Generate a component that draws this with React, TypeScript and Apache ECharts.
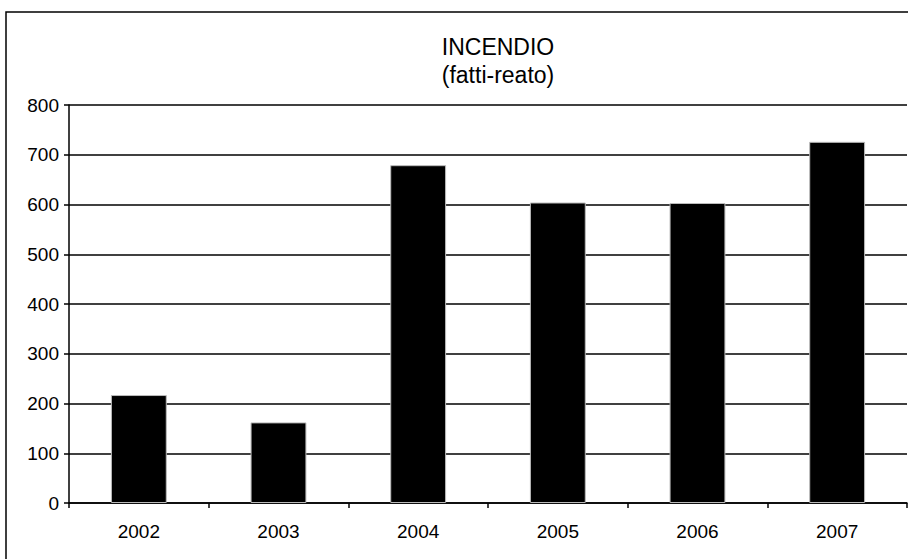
import React, { useEffect, useRef } from "react";
import * as echarts from "echarts";

const categories = ["2002", "2003", "2004", "2005", "2006", "2007"];
const values = [217, 162, 679, 604, 603, 726];
const titleText = "INCENDIO\n(fatti-reato)";

export default function App() {
  const ref = useRef<HTMLDivElement>(null);
  useEffect(() => {
    if (!ref.current) return;
    const chart = echarts.init(ref.current, null, { renderer: "svg" });
    chart.setOption({
      animation: false,
      backgroundColor: "#fff",
      title: {
        text: titleText,
        left: 493,
        textAlign: "center",
        top: 28,
        textStyle: {
          fontFamily: "Liberation Sans, Arial, sans-serif",
          fontSize: 23,
          fontWeight: "normal",
          color: "#000",
          lineHeight: 28,
        },
      },
      graphic: [
        {
          type: "rect",
          shape: { x: 6, y: 12, width: 940, height: 600 },
          style: { fill: "none", stroke: "#000", lineWidth: 1.5 },
          silent: true,
        },
      ],
      grid: { left: 69, right: 1, top: 105, bottom: 56 },
      xAxis: {
        type: "category",
        data: categories,
        boundaryGap: true,
        axisLine: { show: true, lineStyle: { color: "#000", width: 1.5 } },
        axisTick: { show: true, length: 5, inside: false, lineStyle: { color: "#000", width: 1.5 } },
        axisLabel: {
          color: "#000",
          fontFamily: "Liberation Sans, Arial, sans-serif",
          fontSize: 19,
          margin: 19,
        },
      },
      yAxis: {
        type: "value",
        min: 0,
        max: 800,
        interval: 100,
        axisLine: { show: true, lineStyle: { color: "#000", width: 1.5 } },
        axisTick: { show: true, length: 5, lineStyle: { color: "#000", width: 1.5 } },
        axisLabel: {
          color: "#000",
          fontFamily: "Liberation Sans, Arial, sans-serif",
          fontSize: 19,
          margin: 10,
        },
        splitLine: { show: true, lineStyle: { color: "#000", width: 1.5 } },
      },
      series: [
        {
          type: "bar",
          data: values,
          barWidth: "40%",
          itemStyle: { color: "#000", borderColor: "#bbb", borderWidth: 1 },
        },
      ],
    });
    return () => chart.dispose();
  }, []);
  return (
    <div
      ref={ref}
      style={{ position: "fixed", left: 0, top: 0, width: 908, height: 559 }}
    />
  );
}
